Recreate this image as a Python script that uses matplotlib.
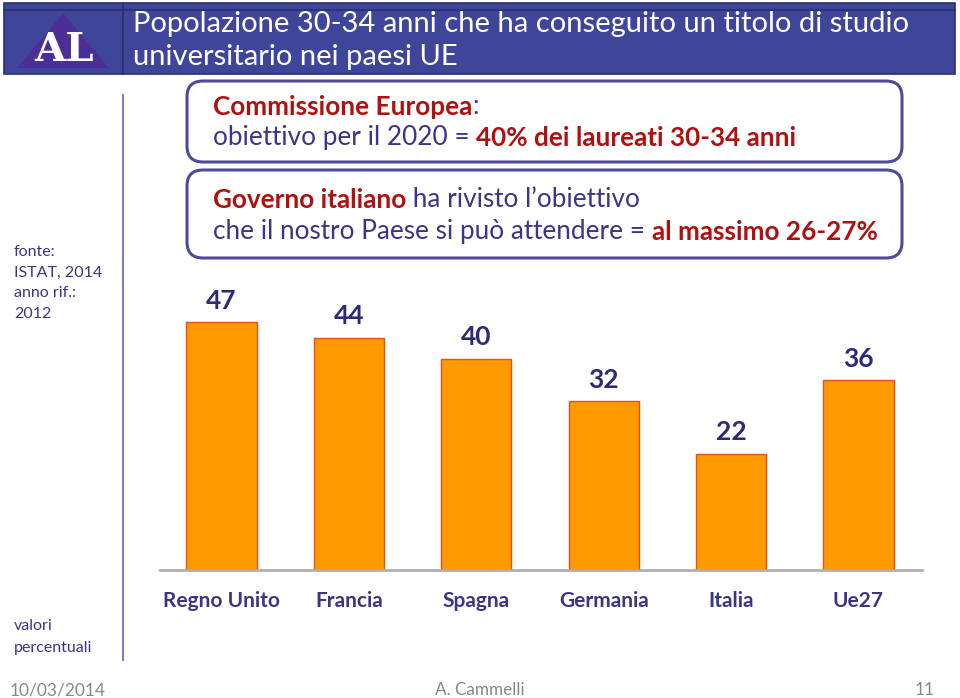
import matplotlib
matplotlib.use("Agg")
import matplotlib.pyplot as plt
from matplotlib.patches import Rectangle, FancyBboxPatch, Polygon
from matplotlib.lines import Line2D

categories = ["Regno Unito", "Francia", "Spagna", "Germania", "Italia", "Ue27"]
values = [47, 44, 40, 32, 22, 36]

title_lines = ["Popolazione 30-34 anni che ha conseguito un titolo di studio",
               "universitario nei paesi UE"]

W, H = 960, 698
plt.rcParams['font.family'] = ['Lato', 'DejaVu Sans']
fig = plt.figure(figsize=(W / 100, H / 100), dpi=100)

# overlay axes in pixel coordinates (y down)
ov = fig.add_axes([0, 0, 1, 1])
ov.set_xlim(0, W)
ov.set_ylim(H, 0)
ov.axis('off')

NAVY = '#3b3585'
RED = '#b01010'
BANNER = '#3f4699'

# banner
ov.add_patch(Rectangle((4, 3), 951, 71, facecolor=BANNER, edgecolor='#2a2f70', lw=1.2, zorder=1))
ov.add_line(Line2D([4, 955], [10, 10], color='#2a2f70', lw=1.2, zorder=2))
ov.add_line(Line2D([123, 123], [3, 74], color='#2a2f70', lw=1.2, zorder=2))
ov.add_patch(Polygon([(17, 68), (63, 13), (109, 68)], closed=True, facecolor='#4b2f96',
                     edgecolor='none', zorder=2))
ov.text(64, 50, "AL", color='white', fontsize=29, fontweight='bold', family='DejaVu Serif',
        ha='center', va='center', zorder=3)
ov.text(133, 24, title_lines[0], color='white', fontsize=21, ha='left', va='center', zorder=3)
ov.text(133, 57, title_lines[1], color='white', fontsize=21, ha='left', va='center', zorder=3)

# left divider
ov.add_line(Line2D([123, 123], [95, 660], color='#7f7fbf', lw=1.5))

# left notes
for txt, yy in [("fonte:", 252), ("ISTAT, 2014", 273), ("anno rif.:", 293), ("2012", 314),
                ("valori", 626), ("percentuali", 648)]:
    ov.text(14, yy, txt, color=NAVY, fontsize=11.5, ha='left', va='center')

# boxes
for (y0, h) in [(81, 81), (170, 88)]:
    ov.add_patch(FancyBboxPatch((187, y0), 715, h, boxstyle="round,pad=0,rounding_size=16",
                                facecolor='white', edgecolor='#4f4a9a', lw=2.2, zorder=1))

def rich_line(x, y, parts, size):
    t = None
    for i, (s, col, bold) in enumerate(parts):
        if i == 0:
            t = ov.text(x, y, s, color=col, fontsize=size,
                        fontweight='bold' if bold else 'normal', ha='left', va='center')
        else:
            t = ov.annotate(s, xycoords=t, xy=(1, 0), va='bottom', ha='left', color=col,
                            fontsize=size, fontweight='bold' if bold else 'normal')

FS = 18.8
rich_line(213, 107, [("Commissione Europea", RED, True), (":", NAVY, False)], FS)
rich_line(213, 138, [("obiettivo per il 2020 = ", NAVY, False),
                     ("40% dei laureati 30-34 anni", RED, True)], FS)
rich_line(213, 200, [("Governo italiano", RED, True), (" ha rivisto l\u2019obiettivo", NAVY, False)], FS)
rich_line(213, 232, [("che il nostro Paese si può attendere = ", NAVY, False),
                     ("al massimo 26-27%", RED, True)], FS)

# footer
ov.text(10, 690, "10/03/2014", color='#888888', fontsize=12.5, ha='left', va='center')
ov.text(480, 690, "A. Cammelli", color='#888888', fontsize=12.3, ha='center', va='center')
ov.text(935, 690, "11", color='#888888', fontsize=12.5, ha='right', va='center')

# bar chart axes
px_per_unit = 5.27
base_y = 570
ymax = 50
ax_left, ax_right = 160, 922
top_y = base_y - ymax * px_per_unit
ax = fig.add_axes([ax_left / W, (H - base_y) / H, (ax_right - ax_left) / W, (base_y - top_y) / H])
ax.patch.set_alpha(0)
x = list(range(len(categories)))
bars = ax.bar(x, values, width=0.55, color='#ff9a00', edgecolor='#e8501a', linewidth=1.0, zorder=2)
spacing = 127.4
ax.set_xlim((ax_left - 221.5) / spacing, (ax_right - 221.5) / spacing)
ax.set_ylim(0, ymax)
for s in ['top', 'right', 'left']:
    ax.spines[s].set_visible(False)
ax.spines['bottom'].set_color('#b0b0b0')
ax.spines['bottom'].set_linewidth(2)
ax.set_yticks([])
ax.set_xticks(x)
ax.set_xticklabels(categories, fontsize=15, fontweight='bold', color=NAVY)
ax.tick_params(axis='x', length=0, pad=15)
for xi, v in zip(x, values):
    ax.annotate(str(v), (xi, v), xytext=(0, 7), textcoords='offset points', ha='center',
                va='bottom', fontsize=19, fontweight='bold', color='#2e2a7a')

fig.savefig("out.png", dpi=100)
